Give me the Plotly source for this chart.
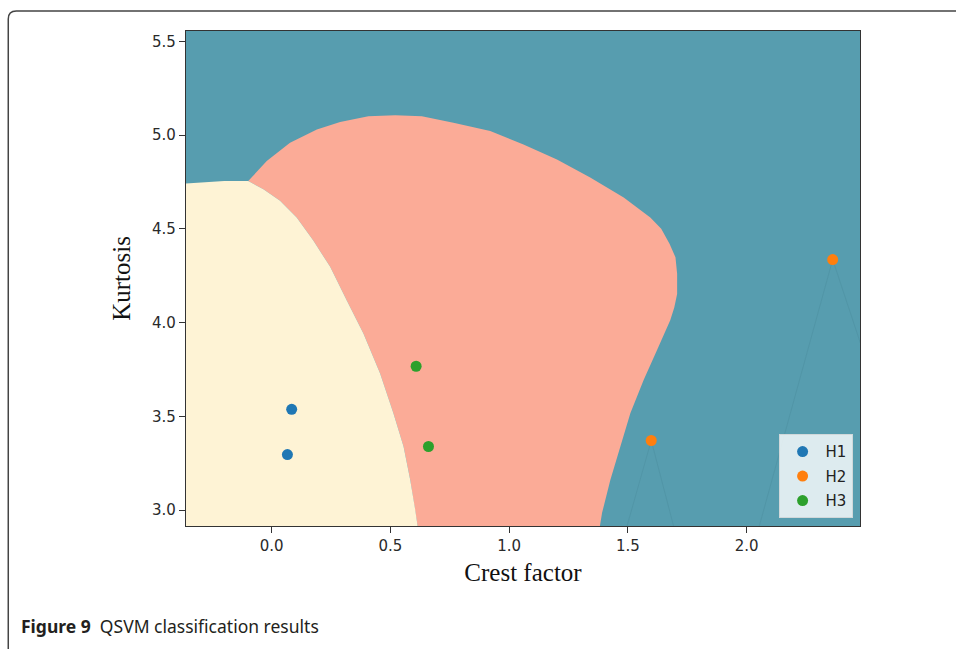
import plotly.graph_objects as go

# ---------------- data ----------------
X_RANGE = [-0.361, 2.477]
Y_RANGE = [2.915, 5.555]

# observed samples
h1_x = [0.084, 0.066]
h1_y = [3.537, 3.296]
h2_x = [2.362, 1.598]
h2_y = [4.336, 3.371]
h3_x = [0.608, 0.660]
h3_y = [3.767, 3.339]

# decision boundary of class H1 (cream region), top-left -> bottom
cream_x = [-0.40, -0.30, -0.20, -0.099, -0.035, 0.035, 0.105, 0.175, 0.246, 0.316,
           0.386, 0.456, 0.512, 0.555, 0.583, 0.604, 0.616]
cream_y = [4.739, 4.748, 4.755, 4.755, 4.711, 4.650, 4.560, 4.437, 4.297, 4.118,
           3.941, 3.729, 3.517, 3.339, 3.162, 3.003, 2.90]

# upper/right boundary of class H3 (salmon region), left -> bottom right
salmon_x = [-0.099, -0.021, 0.077, 0.190, 0.288, 0.407, 0.520, 0.632, 0.765, 0.920,
            1.060, 1.201, 1.341, 1.482, 1.594, 1.640, 1.675, 1.700, 1.707, 1.707,
            1.695, 1.678, 1.622, 1.566, 1.510, 1.468, 1.426, 1.391, 1.380]
salmon_y = [4.755, 4.861, 4.959, 5.030, 5.070, 5.100, 5.105, 5.100, 5.065, 5.021,
            4.950, 4.870, 4.773, 4.667, 4.560, 4.500, 4.420, 4.348, 4.260, 4.153,
            4.080, 4.012, 3.852, 3.693, 3.516, 3.339, 3.162, 2.985, 2.90]

# faint rendering artefact lines below the H2 points
artefact_x = [1.496, 1.598, 1.692, None, 2.053, 2.362, 2.479]
artefact_y = [2.915, 3.371, 2.915, None, 2.915, 4.336, 3.889]

tick_vals_x = [0.0, 0.5, 1.0, 1.5, 2.0]
tick_vals_y = [3.0, 3.5, 4.0, 4.5, 5.0, 5.5]

TEAL = "#579daf"
SALMON = "#fbab97"
CREAM = "#fef3d5"

# ---------------- figure ----------------
fig = go.Figure()

# salmon polygon: upper boundary, then back along the cream boundary
poly_s_x = salmon_x + cream_x[::-1][:-3]
poly_s_y = salmon_y + cream_y[::-1][:-3]
fig.add_trace(go.Scatter(x=poly_s_x, y=poly_s_y, fill="toself", fillcolor=SALMON,
                         mode="lines", line=dict(width=0, color=SALMON),
                         hoverinfo="skip", showlegend=False))

# cream polygon closed along the bottom-left corner
poly_c_x = cream_x + [X_RANGE[0] - 0.05, X_RANGE[0] - 0.05]
poly_c_y = cream_y + [Y_RANGE[0] - 0.05, cream_y[0]]
fig.add_trace(go.Scatter(x=poly_c_x, y=poly_c_y, fill="toself", fillcolor=CREAM,
                         mode="lines", line=dict(width=0, color=CREAM),
                         hoverinfo="skip", showlegend=False))

fig.add_trace(go.Scatter(x=artefact_x, y=artefact_y, mode="lines",
                         line=dict(width=1, color="rgba(60,120,135,0.2)"),
                         hoverinfo="skip", showlegend=False))

for name, xs, ys, col, grp in [("H1", h1_x, h1_y, "#1f77b4", "a"),
                               ("H2", h2_x, h2_y, "#ff7f0e", "b"),
                               ("H3", h3_x, h3_y, "#2ca02c", "c")]:
    fig.add_trace(go.Scatter(x=xs, y=ys, mode="markers", name=name, legendgroup=grp,
                             marker=dict(size=11, color=col, line=dict(width=0))))

axis_common = dict(
    showgrid=False, zeroline=False, ticks="outside", ticklen=6, tickwidth=1.2,
    tickcolor="#333333", showline=True, linecolor="#333333", linewidth=1.2,
    mirror=True, tickformat=".1f",
    tickfont=dict(family="DejaVu Sans", size=15, color="#2a2a2a"),
)

fig.update_layout(
    width=956, height=649,
    margin=dict(l=186, r=96, t=31, b=123),
    paper_bgcolor="white", plot_bgcolor=TEAL,
    xaxis=dict(range=X_RANGE, tickvals=tick_vals_x, **axis_common,
               title=dict(text="Crest factor", standoff=9,
                          font=dict(family="Liberation Serif", size=25, color="#111111"))),
    yaxis=dict(range=Y_RANGE, tickvals=tick_vals_y, **axis_common,
               title=dict(text="Kurtosis", standoff=14,
                          font=dict(family="Liberation Serif", size=25, color="#111111"))),
    legend=dict(x=0.989, y=0.0155, xanchor="right", yanchor="bottom",
                bgcolor="rgba(255,255,255,0.8)", bordercolor="#d0d8da", borderwidth=1,
                font=dict(family="DejaVu Sans", size=15, color="#222222"),
                traceorder="grouped", tracegroupgap=2, itemwidth=36),
    showlegend=True,
)

# caption
fig.add_annotation(xref="paper", yref="paper", x=-0.2478, y=-0.2019,
                   xanchor="left", yanchor="middle", showarrow=False,
                   text="<b>Figure 9</b>\u00a0\u00a0QSVM classification results",
                   font=dict(family="Noto Sans", size=17.5, color="#231f20"))

# page frame (rounded top-left corner)
fig.add_shape(type="path", xref="paper", yref="paper",
              path="M -0.2637,-0.30 L -0.2637,1.0243 Q -0.2637,1.0404 -0.2518,1.0404 L 1.20,1.0404",
              line=dict(color="#444444", width=1.5))

fig.write_html("out.html")
